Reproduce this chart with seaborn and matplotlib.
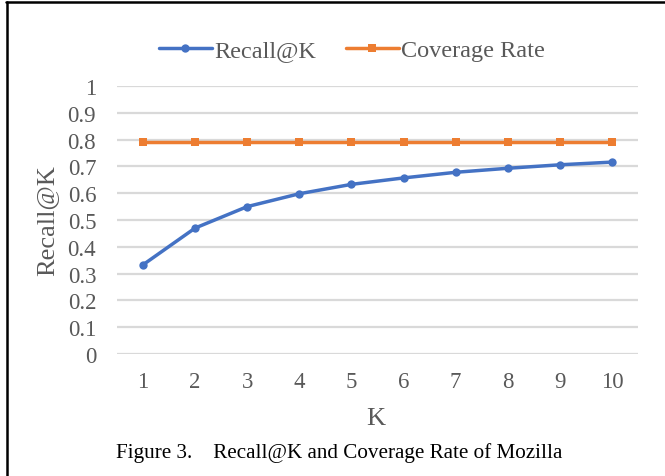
import pandas as pd
import seaborn as sns
import matplotlib.pyplot as plt
from matplotlib.lines import Line2D

# values
k_values = [1, 2, 3, 4, 5, 6, 7, 8, 9, 10]
recall_at_k = [0.333, 0.470, 0.550, 0.598, 0.633, 0.657, 0.678, 0.693, 0.706, 0.716]
coverage_rate = [0.792, 0.792, 0.792, 0.792, 0.792, 0.792, 0.792, 0.792, 0.792, 0.792]
y_ticks = [0, 0.1, 0.2, 0.3, 0.4, 0.5, 0.6, 0.7, 0.8, 0.9, 1]
y_tick_labels = ['0', '0.1', '0.2', '0.3', '0.4', '0.5', '0.6', '0.7', '0.8', '0.9', '1']

df = pd.DataFrame({'K': k_values * 2,
                   'value': recall_at_k + coverage_rate,
                   'series': ['Recall@K'] * 10 + ['Coverage Rate'] * 10})

sns.set_style('white')
plt.rcParams['font.family'] = ['Liberation Serif', 'DejaVu Serif']

fig = plt.figure(figsize=(6.65, 4.77), dpi=100)
ax = fig.add_axes([117 / 665, 1 - 355 / 477, 521 / 665, 268 / 477])

sns.lineplot(data=df, x='K', y='value', hue='series', style='series',
             palette={'Recall@K': '#4472C4', 'Coverage Rate': '#ED7D31'},
             markers={'Recall@K': 'o', 'Coverage Rate': 's'},
             dashes=False, linewidth=2.5, markersize=6, markeredgewidth=0,
             ax=ax, clip_on=False, zorder=3)

ax.set_xlim(0.5, 10.5)
ax.set_ylim(0, 1)
ax.set_xticks(k_values)
ax.set_xticklabels([str(k) for k in k_values])
ax.set_yticks(y_ticks)
ax.set_yticklabels(y_tick_labels)
ax.tick_params(axis='both', length=0, labelsize=16.5, labelcolor='#595959')
ax.tick_params(axis='y', pad=15)
ax.tick_params(axis='x', pad=12)
ax.yaxis.grid(True, color='#D9D9D9', linewidth=1.6)
ax.set_axisbelow(True)
for s in ax.spines.values():
    s.set_visible(False)

ax.set_xlabel('K', fontsize=19, color='#595959')
ax.set_ylabel('Recall@K', fontsize=19, color='#595959')
ax.xaxis.set_label_coords(0.497, -0.198)
ax.yaxis.set_label_coords(-0.113, 0.5)

handles, labels = ax.get_legend_handles_labels()
ax.legend(handles, labels, loc='center', bbox_to_anchor=(352 / 665, 1 - 51 / 477),
          bbox_transform=fig.transFigure, ncol=2, frameon=False, fontsize=17.5,
          handlelength=2.2, handletextpad=0.1, columnspacing=1.2,
          labelcolor='#595959')

fig.text(116 / 665, 1 - 453 / 477, 'Figure 3.    Recall@K and Coverage Rate of Mozilla',
         fontsize=15.2, color='black', ha='left', va='center')

# frame lines of the page crop
fig.add_artist(Line2D([6 / 665, 1], [1 - 3 / 477, 1 - 3 / 477], color='black', linewidth=1.8))
fig.add_artist(Line2D([7 / 665, 7 / 665], [0, 1 - 3 / 477], color='black', linewidth=1.8))

fig.savefig('out.png', dpi=100)
